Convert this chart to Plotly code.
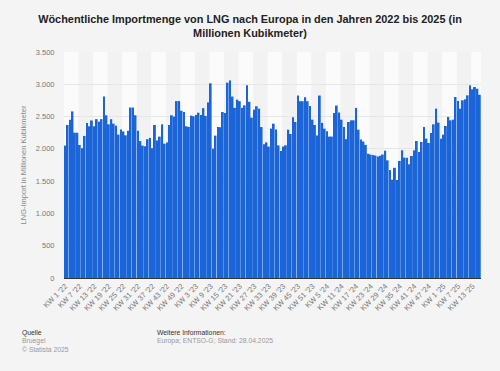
import plotly.graph_objects as go

years = ["22", "23", "24", "25"]
weeks_per_year = [52, 52, 52, 16]

values_2022 = [2050, 2370, 2450, 2580, 2250, 2250, 2060, 2010, 2200, 2400, 2350, 2440, 2350,
               2460, 2420, 2460, 2810, 2520, 2380, 2460, 2390, 2360, 2220, 2300, 2270, 2210,
               2280, 2640, 2640, 2520, 2280, 2120, 2050, 2040, 2150, 2170, 2010, 2370, 2130,
               2190, 2380, 2080, 2100, 2370, 2520, 2500, 2740, 2740, 2590, 2570, 2350, 2340]
values_2023 = [2515, 2505, 2525, 2560, 2525, 2630, 2510, 2720, 3015, 2003, 2205, 2339, 2335,
               2570, 2555, 3025, 3060, 2810, 2635, 2762, 2738, 2635, 2674, 2985, 2728, 2483,
               2607, 2659, 2622, 2338, 2070, 2100, 2035, 2313, 2390, 2300, 2054, 1965, 2035,
               2054, 2297, 2230, 2490, 2416, 2826, 2738, 2738, 2800, 2738, 2664, 2452, 2370]
values_2024 = [2207, 2826, 2403, 2313, 2273, 2190, 2190, 2555, 2670, 2563, 2452, 2338, 2150,
               2416, 2442, 2442, 2635, 2297, 2145, 2114, 2062, 1925, 1912, 1905, 1897, 1880,
               1892, 1912, 1972, 1822, 1672, 1523, 1706, 1518, 1813, 1978, 1864, 1864, 1761,
               1890, 1978, 2122, 1952, 2107, 2339, 2158, 2091, 2246, 2380, 2623, 2406, 2158]
values_2025 = [2220, 2354, 2494, 2442, 2452, 2803, 2741, 2623, 2752, 2767, 2829, 2983, 2921,
               2957, 2931, 2838]

y_ticks = [0, 500, 1000, 1500, 2000, 2500, 3000, 3500]

title = ("<b>Wöchentliche Importmenge von LNG nach Europa in den Jahren 2022 bis 2025 (in<br>"
         "Millionen Kubikmeter)</b>")
y_title = "LNG-Import in Millionen Kubikmeter"
source_head = "Quelle"
source_body = "Bruegel<br>© Statista 2025"
info_head = "Weitere Informationen:"
info_body = "Europa; ENTSO-G; Stand: 28.04.2025"

categories = []
for yr, n in zip(years, weeks_per_year):
    for w in range(1, n + 1):
        categories.append(f"KW {w} '{yr}")
values = values_2022 + values_2023 + values_2024 + values_2025

tick_step = 6
tickvals = categories[::tick_step]

W, H = 500, 371
ML, MR, MT, MB = 64, 19, 52, 93

fig = go.Figure()
fig.add_trace(go.Bar(x=categories, y=values, marker=dict(color="#1b65d8", line_width=0),
                     hovertemplate="%{x}: %{y}<extra></extra>"))

# alternating background bands per tick interval
shapes = []
for k, start in enumerate(range(0, len(categories), tick_step)):
    if k % 2 == 0:
        shapes.append(dict(type="rect", xref="x", yref="paper", layer="below",
                           x0=start - 0.5, x1=min(start + tick_step, len(categories)) - 0.5,
                           y0=0, y1=1, fillcolor="#fbfbfb", line_width=0))

plot_w = W - ML - MR
plot_h = H - MT - MB


def px_to_paper(px, py):
    return (px - ML) / plot_w, (H - MB - py) / plot_h


footer = [
    (source_head, 20, 327, "#333", 6.8),
    (source_body, 20, 335, "#999", 6.8),
    (info_head, 155, 327, "#333", 6.8),
    (info_body, 155, 335, "#999", 6.8),
]
anns = []
for text, px, py, col, sz in footer:
    ax, ay = px_to_paper(px, py)
    anns.append(dict(text=text, x=ax, y=ay, xref="paper", yref="paper", xanchor="left",
                     yanchor="top", align="left", showarrow=False,
                     font=dict(size=sz, color=col)))

fig.update_layout(
    width=W, height=H,
    paper_bgcolor="#f4f4f4", plot_bgcolor="#f2f2f2",
    margin=dict(l=ML, r=MR, t=MT, b=MB),
    separators=",.",
    bargap=0.22,
    showlegend=False,
    shapes=shapes,
    annotations=anns,
    title=dict(text=title, x=0.5, xanchor="center", yref="container", y=1 - 23 / H,
               yanchor="middle",
               font=dict(family="Liberation Sans, Arial, sans-serif", size=10.9, color="#222")),
    font=dict(family="Liberation Sans, Arial, sans-serif", color="#777"),
    xaxis=dict(type="category", tickvals=tickvals, ticktext=tickvals, tickangle=-45,
               tickfont=dict(size=7.5, color="#777"), showgrid=False,
               showline=True, linecolor="#333", linewidth=1, ticks="",
               range=[-0.5, len(categories) - 0.5]),
    yaxis=dict(range=[0, 3500], tickvals=y_ticks, tickformat=",d",
               tickfont=dict(size=7.5, color="#777"), showgrid=True,
               gridcolor="#e6e6e6", gridwidth=1, zeroline=False,
               ticks="outside", ticklen=7, tickcolor="rgba(0,0,0,0)",
               title=dict(text=y_title, font=dict(size=7.5, color="#888"), standoff=8)),
)

fig.write_html("out.html", config={"displayModeBar": False})

with open("out.html", "r", encoding="utf-8") as f:
    html = f.read()
html = html.replace("<head>", "<head><style>html,body{margin:0;padding:0;overflow:hidden;}</style>", 1)
with open("out.html", "w", encoding="utf-8") as f:
    f.write(html)
